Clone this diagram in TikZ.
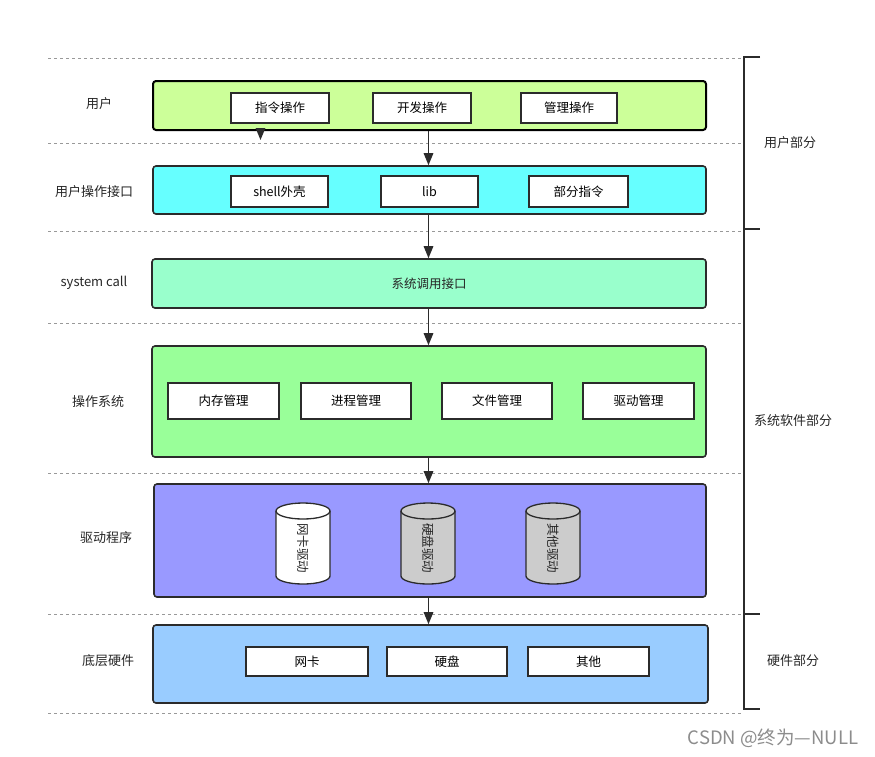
\documentclass[tikz,border=0pt]{standalone}
\usepackage{fontspec}
\setmainfont{Noto Sans CJK SC}
\usetikzlibrary{arrows.meta}
\definecolor{cUser}{HTML}{CCFF99}
\definecolor{cIface}{HTML}{66FFFF}
\definecolor{cSys}{HTML}{99FFCC}
\definecolor{cOS}{HTML}{99FF99}
\definecolor{cDrv}{HTML}{9999FF}
\definecolor{cHw}{HTML}{99CCFF}
\definecolor{cGray}{HTML}{CCCCCC}
\definecolor{cLine}{HTML}{2B2B2B}
\tikzset{
  layer/.style={draw=cLine, line width=1.6pt, rounded corners=3pt, inner sep=0pt},
  sub/.style={draw=cLine, fill=white, line width=1.3pt, inner sep=0pt, minimum height=31pt, font=\fontsize{12.5}{14}\selectfont},
  lbl/.style={font=\fontsize{13}{15}\selectfont, text=black!85, inner sep=0pt},
  sep/.style={draw=black!40, dashed, line width=0.7pt},
  arr/.style={draw=cLine, line width=1.4pt, -{Triangle[length=12pt,width=9.5pt]}},
  brk/.style={draw=cLine, line width=1.6pt},
  cyl/.style={draw=cLine, line width=1.3pt},
}
\begin{document}
\begin{tikzpicture}[x=1pt,y=1pt]
\useasboundingbox (0,0) rectangle (875,-756);
% separators
\foreach \yy in {58,143,231,323,473,614,713}
  \draw[sep] (48,-\yy) -- (742,-\yy);
% layers
\node[layer, fill=cUser, line width=2pt, draw=black, minimum width=553pt, minimum height=49pt] (user) at (429.5,-105.5) {};
\node[layer, fill=cIface, minimum width=553pt, minimum height=48pt] (iface) at (429.5,-190) {};
\node[layer, fill=cSys, minimum width=554pt, minimum height=49pt] (sys) at (429,-283.5) {};
\node[layer, fill=cOS, minimum width=554pt, minimum height=111pt] (os) at (429,-401.5) {};
\node[layer, fill=cDrv, minimum width=552pt, minimum height=113pt] (drv) at (430,-540.5) {};
\node[layer, fill=cHw, minimum width=555pt, minimum height=78pt] (hw) at (430.5,-664) {};
% user sub boxes
\node[sub, minimum width=98pt, minimum height=30pt] (u1) at (280,-108) {指令操作};
\node[sub, minimum width=98pt, minimum height=30pt] (u2) at (422,-108) {开发操作};
\node[sub, minimum width=96pt, minimum height=30pt] (u3) at (569,-108) {管理操作};
% interface sub boxes
\node[sub, minimum width=97pt] (i1) at (279.5,-191.5) {shell外壳};
\node[sub, minimum width=97pt] (i2) at (429.5,-191.5) {lib};
\node[sub, minimum width=99pt] (i3) at (578.5,-191.5) {部分指令};
% syscall text
\node[lbl, font=\fontsize{12.5}{14}\selectfont] (systxt) at (sys.center) {系统调用接口};
% os sub boxes
\node[sub, minimum width=111pt, minimum height=36pt] (o1) at (223.5,-401) {内存管理};
\node[sub, minimum width=110pt, minimum height=36pt] (o2) at (356,-401) {进程管理};
\node[sub, minimum width=110pt, minimum height=36pt] (o3) at (497,-401) {文件管理};
\node[sub, minimum width=111pt, minimum height=36pt] (o4) at (638.5,-401) {驱动管理};
% cylinders
\foreach \cx/\fc/\nm/\tx in {303/white/d1/网卡驱动, 428/cGray/d2/硬盘驱动, 553/cGray/d3/其他驱动}{
  \path[cyl, fill=\fc] (\cx-27,-511) -- (\cx-27,-576) arc[start angle=180,end angle=360,x radius=27,y radius=8]
     -- (\cx+27,-511) arc[start angle=0,end angle=180,x radius=27,y radius=8] -- cycle;
  \draw[cyl] (\cx-27,-511) arc[start angle=180,end angle=360,x radius=27,y radius=8];
  \node[lbl, rotate=-90, font=\fontsize{12.5}{14}\selectfont] (\nm) at (\cx,-548) {\tx};
}
% hardware sub boxes
\node[sub, minimum width=122pt, minimum height=29pt] (h1) at (307,-661.5) {网卡};
\node[sub, minimum width=120pt, minimum height=29pt] (h2) at (447,-661.5) {硬盘};
\node[sub, minimum width=121pt, minimum height=29pt] (h3) at (588.5,-661.5) {其他};
% arrows
\coordinate (ax) at (428.5,0);
\coordinate (tip) at (260.5,-140);
\draw[arr] (user.south -| tip) -- (tip);
\draw[arr] (user.south -| ax) -- (iface.north -| ax);
\draw[arr] (iface.south -| ax) -- (sys.north -| ax);
\draw[arr] (sys.south -| ax) -- (os.north -| ax);
\draw[arr] (os.south -| ax) -- (drv.north -| ax);
\draw[arr] (drv.south -| ax) -- (hw.north -| ax);
% left labels
\node[lbl] (l1) at (99,-104) {用户};
\node[lbl] (l2) at (94,-192) {用户操作接口};
\node[lbl] (l3) at (94,-283) {system call};
\node[lbl] (l4) at (98,-402) {操作系统};
\node[lbl] (l5) at (106,-538) {驱动程序};
\node[lbl] (l6) at (108,-661) {底层硬件};
% bracket
\coordinate (b0) at (744,-57);
\coordinate (b1) at (744,-229);
\coordinate (b2) at (744,-614);
\coordinate (b3) at (744,-709);
\draw[brk] ([xshift=16pt]b0) -- (b0) -- (b3) -- ([xshift=16pt]b3);
\draw[brk] (b1) -- ([xshift=16pt]b1);
\draw[brk] (b2) -- ([xshift=16pt]b2);
\node[lbl] (r1) at (790,-143) {用户部分};
\node[lbl] (r2) at (793,-421) {系统软件部分};
\node[lbl] (r3) at (793,-661) {硬件部分};
% watermark
\node[lbl, text=black!45, font=\fontsize{18.5}{20}\selectfont] (wm) at (773,-738) {CSDN @终为—NULL};
\end{tikzpicture}
\end{document}
